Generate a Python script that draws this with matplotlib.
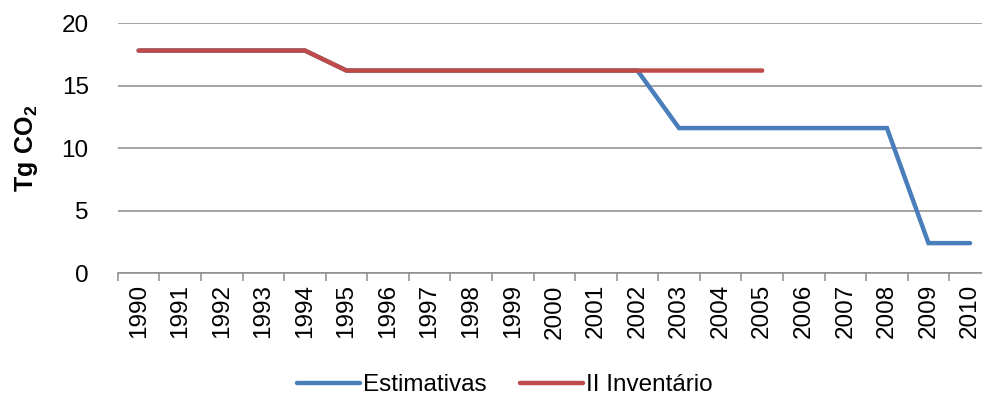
import numpy as np
import matplotlib
matplotlib.use('Agg')
import matplotlib.pyplot as plt

plt.rcParams['font.family'] = ['Liberation Sans', 'DejaVu Sans']
plt.rcParams['mathtext.fontset'] = 'custom'
plt.rcParams['mathtext.rm'] = 'Liberation Sans'
plt.rcParams['mathtext.bf'] = 'Liberation Sans:bold'

# data
years = [str(y) for y in range(1990, 2011)]
estimativas = [17.8, 17.8, 17.8, 17.8, 17.8,
               16.2, 16.2, 16.2, 16.2, 16.2, 16.2, 16.2, 16.2,
               11.6, 11.6, 11.6, 11.6, 11.6, 11.6,
               2.4, 2.4]
ii_inventario = [17.8, 17.8, 17.8, 17.8, 17.8,
                 16.2, 16.2, 16.2, 16.2, 16.2, 16.2, 16.2, 16.2, 16.2, 16.2, 16.2]

blue = '#4A7EBB'
red = '#BE4B48'
grid_col = '#8C8C8C'
fs = 17.5

fig = plt.figure(figsize=(9.82, 3.97), dpi=100)
ax = fig.add_axes([0.120, 0.312, 0.889, 0.630])

x = np.arange(len(years))
ax.plot(x, estimativas, color=blue, lw=3.2, solid_capstyle='round',
        solid_joinstyle='miter', label='Estimativas')
ax.plot(x[:len(ii_inventario)], ii_inventario, color=red, lw=3.2,
        solid_capstyle='round', solid_joinstyle='miter', label='II Inventário')

ax.set_xlim(-0.5, len(years) - 0.5)
ax.set_ylim(0, 20)
ax.set_yticks([0, 5, 10, 15, 20])
ax.yaxis.grid(True, color=grid_col, lw=1.1)
ax.set_axisbelow(True)

for s in ['top', 'right', 'left']:
    ax.spines[s].set_visible(False)
ax.spines['bottom'].set_color(grid_col)
ax.spines['bottom'].set_linewidth(1.1)

ax.set_xticks(x)
ax.set_xticklabels(years, rotation=90, fontsize=fs)
ax.set_xticks(np.arange(-0.5, len(years), 1), minor=True)
ax.tick_params(axis='x', which='major', length=0, pad=8)
ax.tick_params(axis='x', which='minor', length=6, color=grid_col, width=1.1)
ax.tick_params(axis='y', length=0, labelsize=fs, pad=21)

ax.set_ylabel(r'$\mathbf{Tg\ CO_2}$', fontsize=18)
ax.yaxis.set_label_coords(-0.089, 0.5)

fig.legend(loc='center', bbox_to_anchor=(0.514, 0.03), ncol=2, frameon=False,
           fontsize=fs, handlelength=2.6, handletextpad=0.1, columnspacing=1.4)

fig.savefig('out.png', dpi=100)
